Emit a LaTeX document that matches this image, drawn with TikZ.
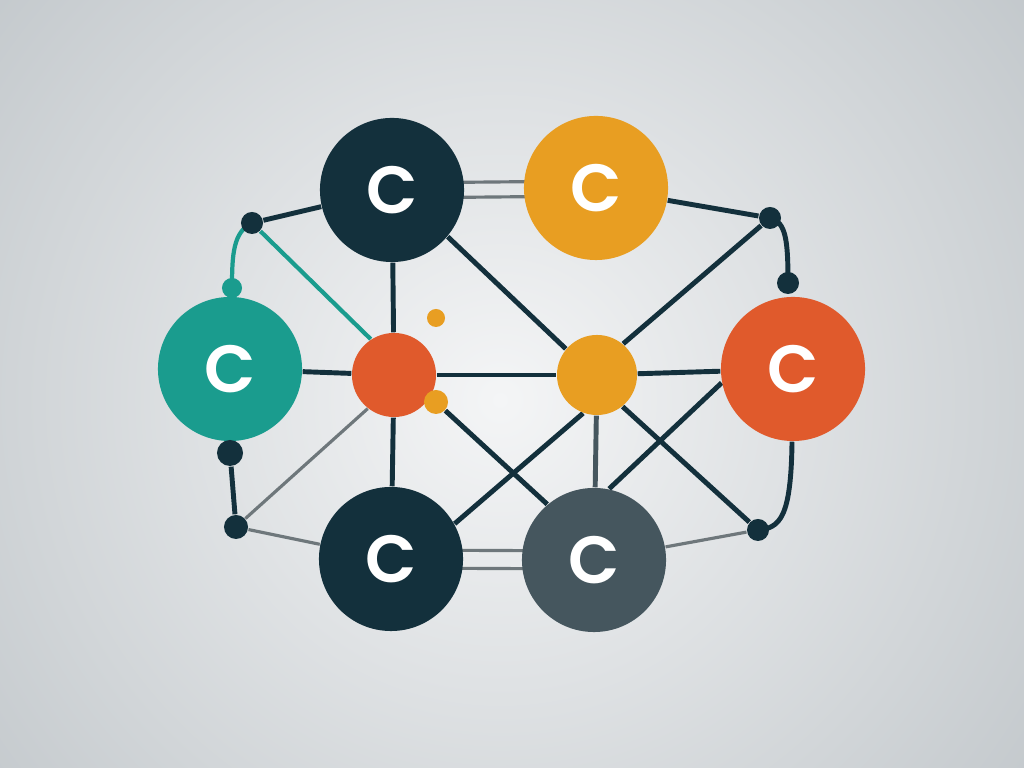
\documentclass[tikz,border=0pt]{standalone}
\usepackage{fontspec}
\newfontfamily\ringfont{Poppins SemiBold}
\usepackage{tikz}

\definecolor{navy}{HTML}{13303C}
\definecolor{amber}{HTML}{E89E22}
\definecolor{jade}{HTML}{1A9C8E}
\definecolor{rust}{HTML}{E05A2C}
\definecolor{slate}{HTML}{45565E}
\definecolor{wire}{HTML}{6E777B}
\definecolor{bgin}{HTML}{F4F5F6}
\definecolor{bgout}{HTML}{BCC2C6}

\pgfdeclarelayer{back}
\pgfdeclarelayer{links}
\pgfsetlayers{back,links,main}

\begin{document}
\begin{tikzpicture}[x=0.01cm,y=-0.01cm]
	\useasboundingbox (0,0) rectangle (1024,768);
	\begin{pgfonlayer}{back}
		\clip (0,0) rectangle (1024,768);
		\shade[inner color=bgin,outer color=bgout] (500,400) circle (760);
	\end{pgfonlayer}

	\begin{scope}[every node/.style={circle,inner sep=0pt,minimum size=1.44cm,
	              text=white,font=\ringfont\fontsize{19}{19}\selectfont}]
		\node[fill=navy] (TD) at (392,190) {C};
		\node[fill=amber] (TO) at (596,188) {C};
		\node[fill=jade] (CT) at (230,369) {C};
		\node[fill=rust] (CR) at (793,369) {C};
		\node[fill=navy] (BD) at (391,559) {C};
		\node[fill=slate] (BG) at (594,560) {C};
	\end{scope}

	\begin{scope}[every node/.style={circle,inner sep=0pt}]
		\node[fill=rust,minimum size=0.84cm] (SR) at (394,375) {};
		\node[fill=amber,minimum size=0.8cm] (SO) at (597,375) {};
		\node[fill=amber,minimum size=0.24cm] (od2) at (436,402) {};
		\node[fill=amber,minimum size=0.18cm] (od1) at (436,318) {};
		\node[fill=navy,minimum size=0.22cm] (j1) at (252,223) {};
		\node[fill=jade,minimum size=0.2cm] (j2) at (232,288) {};
		\node[fill=navy,minimum size=0.22cm] (j3) at (770,218) {};
		\node[fill=navy,minimum size=0.22cm] (j4) at (788,283) {};
		\node[fill=navy,minimum size=0.26cm] (j5) at (230,453) {};
		\node[fill=navy,minimum size=0.24cm] (j6) at (236,527) {};
		\node[fill=navy,minimum size=0.22cm] (j7) at (758,530) {};
	\end{scope}

	\begin{pgfonlayer}{links}
	\begin{scope}[every edge/.style={draw=navy,line width=1.4pt}]
		\path (j1) edge (TD);
		\path (TD) edge (SR);
		\path (TD.-40) edge (SO.140);
		\path (TO) edge (j3);
		\path (j3) edge (SO.50);
		\path (CT) edge (SR);
		\path (SR) edge (SO);
		\path (SO) edge (CR);
		\path (j5) edge (j6);
		\path (SR) edge (BD);
		\path (od2) edge (BG.130);
		\path (BD.29) edge (SO.250);
		\path (SO) edge[draw=slate] (BG);
		\path (BG.78) edge (CR.191);
		\path (SO.-51) edge (j7);
	\end{scope}
	\draw[navy,line width=1.4pt] (j3.center) .. controls (786,222) and (788,240) .. (j4.center);
	\draw[navy,line width=1.4pt] (CR) .. controls (791,518) and (780,528) .. (j7.center);

	\begin{scope}[every edge/.style={draw=wire,line width=0.9pt}]
		\path ([yshift=0.07cm]TD.center) edge ([yshift=0.07cm]TO.center);
		\path ([yshift=-0.08cm]TD.center) edge ([yshift=-0.08cm]TO.center);
		\path ([yshift=0.09cm]BD.center) edge ([yshift=0.09cm]BG.center);
		\path ([yshift=-0.09cm]BD.center) edge ([yshift=-0.09cm]BG.center);
		\path (j6) edge (SR.232);
		\path (j6) edge (BD);
		\path (j7) edge (BG);
	\end{scope}

	\draw[jade,line width=1.2pt] (j1.center) .. controls (233,232) and (232,255) .. (j2.center);
	\path (j1) edge[draw=jade,line width=1.2pt] (SR.123);
	\end{pgfonlayer}
\end{tikzpicture}
\end{document}
